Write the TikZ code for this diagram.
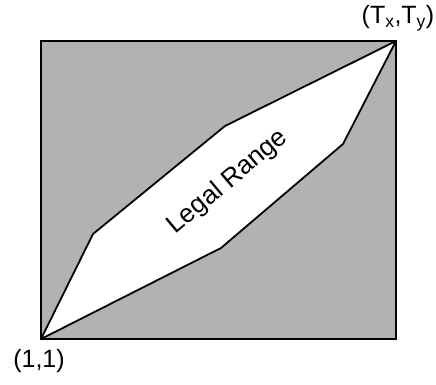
\documentclass[tikz,border=0pt]{standalone}
\usepackage{fontspec}
\setmainfont{Liberation Sans}

\begin{document}
\begin{tikzpicture}[x=1pt, y=1pt,
    field/.style={draw, line width=1.8pt, fill={rgb,255:red,178;green,178;blue,178}},
    legalzone/.style={draw, line width=1.8pt, fill=white, line join=round},
    corner/.style={font=\fontsize{25}{28}\selectfont},
    inside/.style={font=\fontsize{26}{30}\selectfont, rotate=40}
]
\useasboundingbox (0,0) rectangle (436,384);

% Cadre
\coordinate (ll) at (41,45);
\coordinate (tr) at (396,343);
\draw[field] (ll) rectangle (tr);

% Sommets
\coordinate (up1) at (93,150);
\coordinate (up2) at (225,258);
\coordinate (lo2) at (343,240);
\coordinate (lo1) at (221,136);

% Zone
\draw[legalzone] (ll) -- (up1) -- (up2) -- (tr) -- (lo2) -- (lo1) -- cycle;

% Textes
\node[inside] (legal) at (228,202) {Legal Range};
\node[corner] (start) at (39,23) {(1,1)};
\node[corner] (stop) at (398,366) {(T\textsubscript{x},T\textsubscript{y})};

\end{tikzpicture}
\end{document}
